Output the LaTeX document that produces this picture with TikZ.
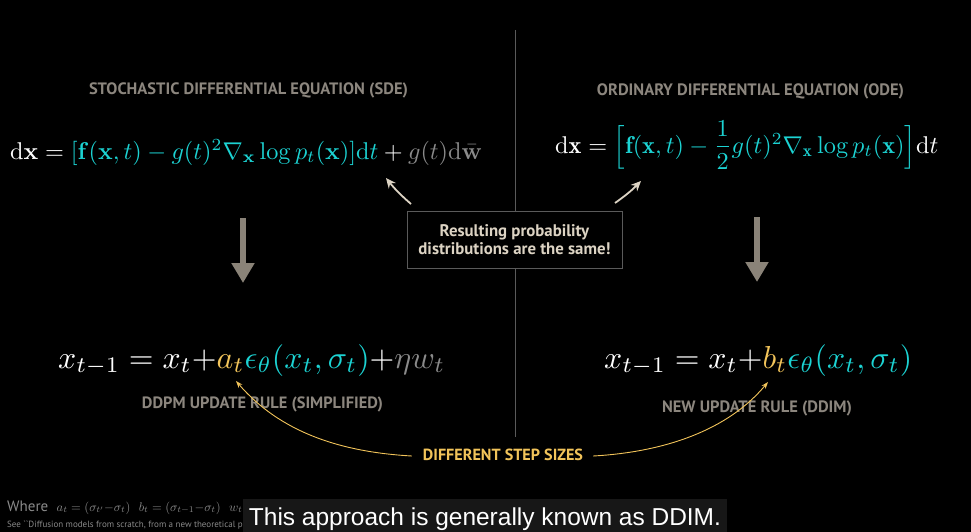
\documentclass[tikz,border=0pt]{standalone}
\usepackage{fontspec}
\usepackage{graphicx}
\usepackage{amsmath}
\usetikzlibrary{arrows.meta}
\newfontfamily\labfont{PT Sans}
\newfontfamily\subfont{Liberation Sans}
\definecolor{cy}{HTML}{1CD3D3}
\definecolor{ye}{HTML}{F2C45A}
\definecolor{gr}{HTML}{8A8A8A}
\definecolor{lab}{HTML}{8C867E}
\definecolor{beige}{HTML}{DCD3C3}
\definecolor{arrgray}{HTML}{8A8378}
\definecolor{divc}{HTML}{5A5A5A}
\newcommand{\fitw}[2]{\resizebox{#1pt}{!}{#2}}
\newsavebox\sdebox
\sbox\sdebox{\color{white}$\mathrm{d}\mathbf{x} = \textcolor{cy}{[\mathbf{f}(\mathbf{x},t) - g(t)^2\nabla_{\mathbf{x}}\log p_t(\mathbf{x})]\mathrm{d}t} + \textcolor{gr}{g(t)\mathrm{d}\bar{\mathbf{w}}}$}
\tikzset{
  title/.style={text=lab, inner sep=0pt, font=\labfont\bfseries},
  eqn/.style={text=white, inner sep=0pt, anchor=base west},
  bigarrow/.style={draw=arrgray, line width=6pt, -{Triangle[width=22pt,length=20pt]}},
  noteline/.style={draw=beige, line width=1.8pt, -{Stealth[length=10pt,width=9pt]}},
  stepline/.style={draw=ye, line width=0.9pt, -{Stealth[length=7pt,width=5pt]}},
}
\begin{document}
\begin{tikzpicture}[x=1pt,y=-1pt]
\pgfmathsetmacro\sdescale{472/\wd\sdebox}
\fill[black] (0,0) rectangle (971,532);
\useasboundingbox (0,0) rectangle (971,532);
% divider
\draw[divc, line width=1pt] (515,30) -- (515,437);
% titles
\node[title] (sdet) at (248.5,90) {\fitw{319}{STOCHASTIC DIFFERENTIAL EQUATION (SDE)}};
\node[title] (odet) at (750.5,91) {\fitw{307}{ORDINARY DIFFERENTIAL EQUATION (ODE)}};
% equations
\node[eqn] (sde) at (10,159) {\scalebox{\sdescale}{\usebox\sdebox}};
\node[eqn] (ode) at (555,153) {\scalebox{\sdescale}{$\mathrm{d}\mathbf{x} = \textcolor{cy}{\Bigl[\mathbf{f}(\mathbf{x},t) - \dfrac{1}{2}g(t)^2\nabla_{\mathbf{x}}\log p_t(\mathbf{x})\Bigr]}\mathrm{d}t$}};
% box
\node[draw=divc, fill=black, line width=1pt, minimum width=215pt, minimum height=57pt, inner sep=0pt, text=beige, align=center, font=\labfont\bfseries\fontsize{16.8}{17.5}\selectfont] (box) at (514.5,239.5) {Resulting probability\\distributions are the same!};
\coordinate (s1) at (411,204);
\coordinate (e1) at (386,178);
\coordinate (s2) at (615,203);
\coordinate (e2) at (641,181);
\draw[noteline] (s1) to[bend left=5] (e1);
\draw[noteline] (s2) to[bend right=5] (e2);
% big arrows
\coordinate (la1) at (243,218);
\coordinate (la2) at (243,283);
\coordinate (ra1) at (757,217);
\coordinate (ra2) at (757,282);
\draw[bigarrow] (la1) -- (la2);
\draw[bigarrow] (ra1) -- (ra2);
% update rules
\node[eqn] (ddpm) at (58,368) {\fitw{387}{$x_{t-1} = x_t{+}\textcolor{ye}{a_t}\textcolor{cy}{\epsilon_\theta(x_t,\sigma_t)}{+}\textcolor{gr}{\eta w_t}$}};
\node[eqn] (ddim) at (604,368) {\fitw{308}{$x_{t-1} = x_t{+}\textcolor{ye}{b_t}\textcolor{cy}{\epsilon_\theta(x_t,\sigma_t)}$}};
\node[title] (ddpml) at (262.5,404) {\fitw{241}{DDPM UPDATE RULE (SIMPLIFIED)}};
\node[title] (ddiml) at (757,408) {\fitw{190}{NEW UPDATE RULE (DDIM)}};
% step sizes
\node[text=ye, inner sep=0pt, font=\labfont\bfseries] (steps) at (503,455) {\fitw{160}{DIFFERENT STEP SIZES}};
\coordinate (at) at (236,381);
\coordinate (bt) at (768,382);
\draw[stepline] ([xshift=-11pt,yshift=-1pt]steps.west) .. controls (340,452) and (280,432) .. (at);
\draw[stepline] ([xshift=10pt,yshift=-1pt]steps.east) .. controls (665,452) and (728,430) .. (bt);
% footnote
\node[anchor=base west, inner sep=0pt, text=gr] (fn1) at (7,511) {\fitw{380}{{\labfont\fontsize{12}{12}\selectfont Where}\ \ $a_t = (\sigma_{t'}{-}\sigma_t)$\ \ $b_t = (\sigma_{t-1}{-}\sigma_t)$\ \ $w_t \sim \mathcal{N}(0,I)$\ \ $\eta = \sqrt{\sigma_{t'}^2-\sigma_t^2}$}};
\node[anchor=base west, inner sep=0pt, text=gr, font=\labfont\fontsize{9}{10}\selectfont] (fn2) at (7,527) {See ``Diffusion models from scratch, from a new theoretical perspective'' by Chenyang Yuan};
% subtitle
\node[fill=black!91!white, text=white, inner sep=0pt, minimum width=484pt, minimum height=33pt] (sub) at (485,515.5) {};
\node[text=white, inner sep=0pt, anchor=base] (subt) at (485,525) {\fitw{472}{\subfont This approach is generally known as DDIM.}};
\end{tikzpicture}
\end{document}
